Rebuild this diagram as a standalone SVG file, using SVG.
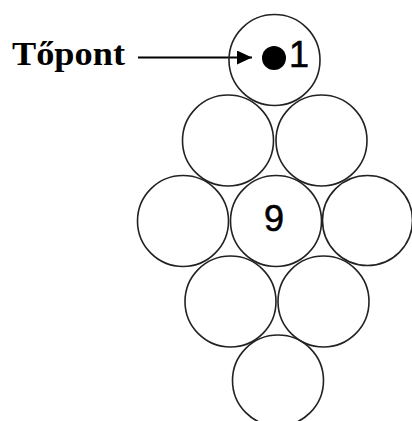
<svg xmlns="http://www.w3.org/2000/svg" width="412" height="421" viewBox="0 0 412 421">
  <defs>
    <style>
      .cell { fill: none; stroke: #222; stroke-width: 1.6; }
      .num { font-family: "Liberation Sans", Arial, sans-serif; font-size: 36px; fill: #000; stroke: #000; stroke-width: 0.6; text-anchor: middle; }
      .label { font-family: "Liberation Serif", "Times New Roman", serif; font-size: 34px; font-weight: bold; fill: #000; }
      .link { stroke: #000; stroke-width: 2; fill: none; }
    </style>
    <marker id="arrowhead" viewBox="0 0 15 14" refX="15" refY="7" markerWidth="15" markerHeight="14" markerUnits="userSpaceOnUse" orient="auto">
      <path d="M0,0 L15,7 L0,14 z" fill="#000"/>
    </marker>
  </defs>
  <rect width="412" height="421" fill="#fff"/>

  <g id="label-topont">
    <text class="label" x="12" y="65" textLength="113" lengthAdjust="spacingAndGlyphs">Tőpont</text>
  </g>

  <g id="connectors">
    <line class="link" x1="138" y1="57.5" x2="252" y2="57.5" marker-end="url(#arrowhead)"/>
  </g>

  <g id="cell-1">
    <circle class="cell" cx="274.5" cy="60" r="45.5"/>
    <circle cx="274" cy="58" r="12" fill="#000"/>
    <text class="num" x="299" y="67">1</text>
  </g>
  <g id="cell-2">
    <circle class="cell" cx="228" cy="140.5" r="45.5"/>
  </g>
  <g id="cell-3">
    <circle class="cell" cx="321.5" cy="140.5" r="45.5"/>
  </g>
  <g id="cell-4">
    <circle class="cell" cx="183" cy="221" r="45.5"/>
  </g>
  <g id="cell-9">
    <circle class="cell" cx="276" cy="221" r="45.5"/>
    <text class="num" x="274" y="231">9</text>
  </g>
  <g id="cell-5">
    <circle class="cell" cx="367.5" cy="220.5" r="45"/>
  </g>
  <g id="cell-6">
    <circle class="cell" cx="230.5" cy="301.5" r="45.5"/>
  </g>
  <g id="cell-7">
    <circle class="cell" cx="323.5" cy="301.5" r="45.5"/>
  </g>
  <g id="cell-8">
    <circle class="cell" cx="278" cy="380.5" r="45.5"/>
  </g>
</svg>
